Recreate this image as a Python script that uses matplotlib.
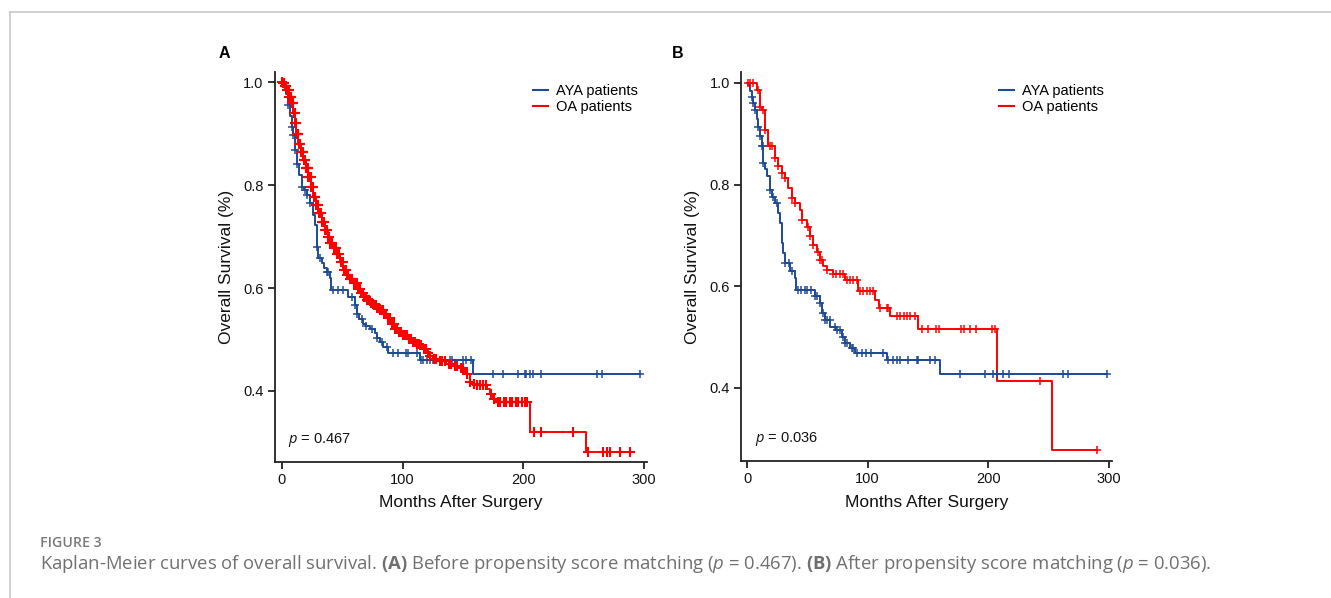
import numpy as np
import matplotlib
matplotlib.use("Agg")
import matplotlib.pyplot as plt
from matplotlib.lines import Line2D

# ---------------- data ----------------
# Panel A: before propensity score matching
aya_a_t = [1.5, 3, 5.2, 6.5, 8, 9.4, 10.8, 12.2, 14, 16.3, 18.5, 20.4, 23.2, 26, 27.3, 28.7, 30, 32.8, 35, 37,
           39.7, 40.5, 55, 60.4, 62, 64, 67, 70, 73, 77, 79, 81, 84, 88, 114, 158.5]
aya_a_s = [0.99, 0.977, 0.956, 0.935, 0.914, 0.897, 0.868, 0.842, 0.82, 0.797, 0.79, 0.78, 0.765, 0.742, 0.722,
           0.68, 0.658, 0.648, 0.64, 0.632, 0.619, 0.596, 0.583, 0.567, 0.55, 0.54, 0.531, 0.526, 0.521, 0.512,
           0.503, 0.495, 0.486, 0.474, 0.46, 0.434]
aya_a_cens = [5.2, 8, 9.4, 10.8, 12.2, 16.3, 19, 20.4, 23.2, 28.7, 31.5, 37, 38.3, 42.5, 46.6, 50.7, 57.7, 60.4,
              62, 66, 70, 75, 79, 83, 86.7, 92, 96, 103, 104.6, 111.5, 115.6, 117, 120, 122.5, 125, 128, 132, 139,
              140.5, 150, 152.3, 157, 175, 183, 195.6, 201, 202.5, 205.3, 208, 215, 261, 265, 297]

oa_a_t = [0.5, 2, 3.9, 6, 8, 9.5, 10.8, 12, 13.5, 15.5, 17.6, 19.5, 21.8, 24, 26, 28, 30, 33, 35.6, 38,
          39.7, 42, 45, 48, 50.7, 53, 56, 59, 62, 65, 67, 70, 73, 75.6, 78, 81, 84, 86.7, 90, 94,
          97, 100.4, 104, 108.7, 112, 115.6, 117, 119.8, 122, 125, 130, 136, 141, 147, 151.5, 155.6, 158, 161,
          170, 172, 175, 177.7, 205.3, 252]
oa_a_s = [0.998, 0.992, 0.985, 0.972, 0.959, 0.94, 0.92, 0.9, 0.881, 0.865, 0.849, 0.833, 0.816, 0.797, 0.777,
          0.761, 0.745, 0.729, 0.713, 0.70, 0.687, 0.677, 0.667, 0.651, 0.635, 0.625, 0.617, 0.609, 0.598, 0.59,
          0.583, 0.577, 0.572, 0.567, 0.562, 0.557, 0.549, 0.541, 0.531, 0.521, 0.515, 0.508, 0.502, 0.495,
          0.492, 0.489, 0.481, 0.473, 0.468, 0.463, 0.458, 0.453, 0.449, 0.444, 0.434, 0.418, 0.414, 0.411,
          0.403, 0.395, 0.385, 0.379, 0.32, 0.281]
oa_a_cens = [0.4, 0.9, 1.3, 1.8, 2.2, 2.6, 3.1, 3.5, 4.0, 4.4, 4.9, 5.3, 5.8, 6.2, 6.7, 7.1, 7.6, 8.0, 8.5, 8.9,
             9.4, 9.8, 10.3, 10.7, 11.2, 11.6, 12.1, 12.5, 13.0, 13.4, 13.9, 14.3, 14.8, 15.3, 15.7, 16.2, 16.8,
             17.3, 17.9, 18.4, 19.0, 19.6, 20.1, 20.7, 21.3, 21.9, 22.5, 23.1, 23.7, 24.3, 25.0, 25.6, 26.3, 27.0,
             27.6, 28.3, 29.0, 29.7, 30.4, 31.1, 31.9, 32.6, 33.4, 34.2, 35.0, 35.8, 36.6, 37.4, 38.3, 39.1, 40.0,
             40.9, 41.8, 42.7, 43.6, 44.6, 45.5, 46.5, 47.5, 48.5, 49.5, 50.6, 51.6, 52.7, 53.8, 54.9, 56.0, 57.2,
             58.3, 59.5, 60.7, 61.9, 63.1, 64.4, 65.6, 66.9, 68.2, 69.5, 70.8, 72.2, 73.5, 74.9, 76.3, 77.7, 79.1,
             80.5, 82.0, 83.4, 84.9, 86.4, 87.9, 89.4, 90.9, 92.5, 94.0, 95.6, 97.2, 98.8, 100.4, 102.0, 103.7,
             105.3, 107.0, 108.7, 110.4, 112.1, 113.8, 115.6, 117.4, 119.2, 121.0, 123, 126, 128, 131, 133, 135,
             138, 140, 143, 145, 148, 150, 153, 156, 159, 162, 164, 167, 169, 173, 176, 179, 181, 184, 186, 189,
             191, 194, 196, 199, 201, 203, 209, 215, 241, 254, 266, 269, 271.5, 280, 288.6]

# Panel B: after propensity score matching
aya_b_t = [1, 2.5, 3.9, 5.2, 6.6, 8, 9.4, 10.8, 12.2, 13.5, 15, 16.3, 19, 21, 23.2, 26, 27.3, 28.7, 30, 31.5,
           35.6, 39.8, 41, 56, 60.5, 62, 64.6, 69, 74, 78.5, 81, 85, 89.5, 115.7, 160]
aya_b_s = [0.996, 0.985, 0.973, 0.96, 0.947, 0.93, 0.914, 0.895, 0.875, 0.842, 0.83, 0.816, 0.79, 0.776, 0.763,
           0.744, 0.724, 0.685, 0.665, 0.645, 0.629, 0.616, 0.592, 0.58, 0.567, 0.547, 0.534, 0.52, 0.514, 0.501,
           0.488, 0.478, 0.468, 0.455, 0.428]
aya_b_cens = [3.9, 5.2, 6.6, 9.4, 10.8, 12.2, 13, 13.5, 19, 21.8, 24.6, 31.5, 35, 37, 42, 45, 48, 50, 53, 56,
              58, 60.5, 63, 64.6, 66, 68.8, 72.9, 74.3, 77, 79.8, 81, 82.6, 86.7, 88, 91, 95, 99, 103, 113, 117,
              121, 124, 127, 133.6, 140.6, 142, 151.6, 155.8, 176.5, 197, 204, 207, 212.5, 217, 262, 266, 298]

oa_b_t = [8, 10.8, 12, 15, 17.6, 23.2, 26, 28.7, 31.5, 34.3, 37, 39.8, 43.9, 45.3, 49.5, 52, 55, 57.7, 60.5, 63,
          66, 71.5, 81, 92, 106, 109, 118.5, 142, 207, 252.5]
oa_b_s = [0.986, 0.953, 0.947, 0.907, 0.875, 0.852, 0.836, 0.823, 0.813, 0.793, 0.773, 0.763, 0.75, 0.731, 0.717,
          0.698, 0.681, 0.668, 0.652, 0.639, 0.632, 0.624, 0.613, 0.59, 0.573, 0.557, 0.541, 0.516, 0.413, 0.277]
oa_b_cens = [1, 2.5, 5.2, 9.4, 10.8, 13, 15, 19, 21, 23.2, 26, 28.7, 31.5, 37, 39.8, 45.3, 50.8, 52.2, 55, 59,
             60.5, 62, 66, 71.5, 74, 77, 79.8, 82.6, 85.3, 88, 90.9, 93.6, 96.4, 99.2, 101.9, 104.6, 110, 115.7,
             117, 124, 127, 130, 133, 135, 139, 144.7, 150, 157, 159, 177, 179.5, 185, 190, 203, 205.6, 242.7,
             289.7]

groups = ["AYA patients", "OA patients"]
p_values = ["0.467", "0.036"]
panel_letters = ["A", "B"]
x_ticks = [0, 100, 200, 300]
y_ticks = [0.4, 0.6, 0.8, 1.0]
x_label = "Months After Surgery"
y_label = "Overall Survival (%)"

# ---------------- styling ----------------
BLUE = "#1F4A96"
RED = "#FF0000"
AXC = "#222222"
W, H = 1331, 598
plt.rcParams["font.family"] = ["Liberation Sans", "DejaVu Sans"]
plt.rcParams["mathtext.fontset"] = "custom"
plt.rcParams["mathtext.rm"] = "Open Sans"
plt.rcParams["mathtext.it"] = "Open Sans:italic"
plt.rcParams["mathtext.bf"] = "Open Sans:bold"

fig = plt.figure(figsize=(W / 100, H / 100), dpi=100)


def px_axes(left, right, top, bottom):
    return fig.add_axes([left / W, 1 - bottom / H, (right - left) / W, (bottom - top) / H])


def km(ax, t, s, cens, color, lw=1.4, ms=6, mew=1.1):
    t = np.asarray(t, float)
    s = np.asarray(s, float)
    cens = np.asarray(cens, float)
    end = max(cens.max(), t.max())
    tt = np.concatenate([[0.0], t, [end]])
    ss = np.concatenate([[1.0], s, [s[-1]]])
    ax.step(tt, ss, where="post", color=color, lw=lw, zorder=3)
    idx = np.searchsorted(t, cens, side="right") - 1
    cs = np.where(idx >= 0, s[np.clip(idx, 0, None)], 1.0)
    ax.plot(cens, cs, ls="none", marker="+", ms=ms, mew=mew, color=color, zorder=4)


panels = [
    dict(box=(274.5, 647, 72, 462), ylim=(0.262, 1.020), data=[(aya_a_t, aya_a_s, aya_a_cens), (oa_a_t, oa_a_s, oa_a_cens)],
         letter_x=224, p_x=288, p_y=440, leg=(533, 84), red_mew=1.5, red_ms=6.5),
    dict(box=(741, 1112, 72, 461), ylim=(0.256, 1.0216), data=[(aya_b_t, aya_b_s, aya_b_cens), (oa_b_t, oa_b_s, oa_b_cens)],
         letter_x=678, p_x=755, p_y=439, leg=(999, 84), red_mew=1.1, red_ms=6),
]

for i, pn in enumerate(panels):
    l, r, tp, b = pn["box"]
    ax = px_axes(l, r, tp, b)
    (t1, s1, c1), (t2, s2, c2) = pn["data"]
    km(ax, t1, s1, c1, BLUE)
    km(ax, t2, s2, c2, RED, ms=pn["red_ms"], mew=pn["red_mew"])
    ax.set_xlim(-6.2 if i == 0 else -5.0, 302.5)
    ax.set_ylim(*pn["ylim"])
    ax.set_xticks(x_ticks)
    ax.set_yticks(y_ticks)
    ax.set_yticklabels([f"{v:.1f}" for v in y_ticks])
    for sp in ["top", "right"]:
        ax.spines[sp].set_visible(False)
    for sp in ["left", "bottom"]:
        ax.spines[sp].set_color(AXC)
        ax.spines[sp].set_linewidth(1.3)
    ax.tick_params(direction="out", length=5, width=1.3, color=AXC, labelsize=10.5, labelcolor="#111111", pad=3)
    xc = (l + r) / 2
    fig.text(xc / W, 1 - 503 / H, x_label, ha="center", va="center", fontsize=12.5, color="#111111")
    fig.text((l - 48) / W, 1 - ((tp + b) / 2) / H, y_label, ha="center", va="center", rotation=90,
             fontsize=12.5, color="#111111")
    fig.text(pn["letter_x"] / W, 1 - 53 / H, panel_letters[i], ha="center", va="center", fontsize=11.5,
             fontweight="bold", color="black")
    fig.text(pn["p_x"] / W, 1 - pn["p_y"] / H, "$\\it{p}$ = " + p_values[i], ha="left", va="center",
             fontsize=10.5, color="#111111", family=["Liberation Sans"])
    handles = [Line2D([], [], color=BLUE, lw=1.5), Line2D([], [], color=RED, lw=1.5)]
    lx, ly = pn["leg"]
    ax.legend(handles, groups, loc="upper left", bbox_to_anchor=(lx / W, 1 - ly / H),
              bbox_transform=fig.transFigure, frameon=False, fontsize=10.5, handlelength=1.0,
              handletextpad=0.55, labelspacing=0.12, borderpad=0, borderaxespad=0)

# border of the figure box
fig.add_artist(Line2D([9.5 / W, 1.0], [1 - 11.5 / H, 1 - 11.5 / H], color="#c8c8c8", lw=1.2))
fig.add_artist(Line2D([9.5 / W, 9.5 / W], [0.0, 1 - 11.5 / H], color="#c8c8c8", lw=1.2))

# caption
fig.text(40 / W, 1 - 543 / H, "FIGURE 3", ha="left", va="center", fontsize=10.2, color="#7a7a7a",
         family=["Open Sans"], fontweight="semibold")
caption = ("Kaplan-Meier curves of overall survival. $\\bf{(A)}$ Before propensity score matching "
           "($\\it{p}$ = 0.467). $\\bf{(B)}$ After propensity score matching ($\\it{p}$ = 0.036).")
fig.text(40 / W, 1 - 564 / H, caption, ha="left", va="center", fontsize=13.3, color="#707070",
         family=["Open Sans"])

fig.savefig("out.png", dpi=100)
